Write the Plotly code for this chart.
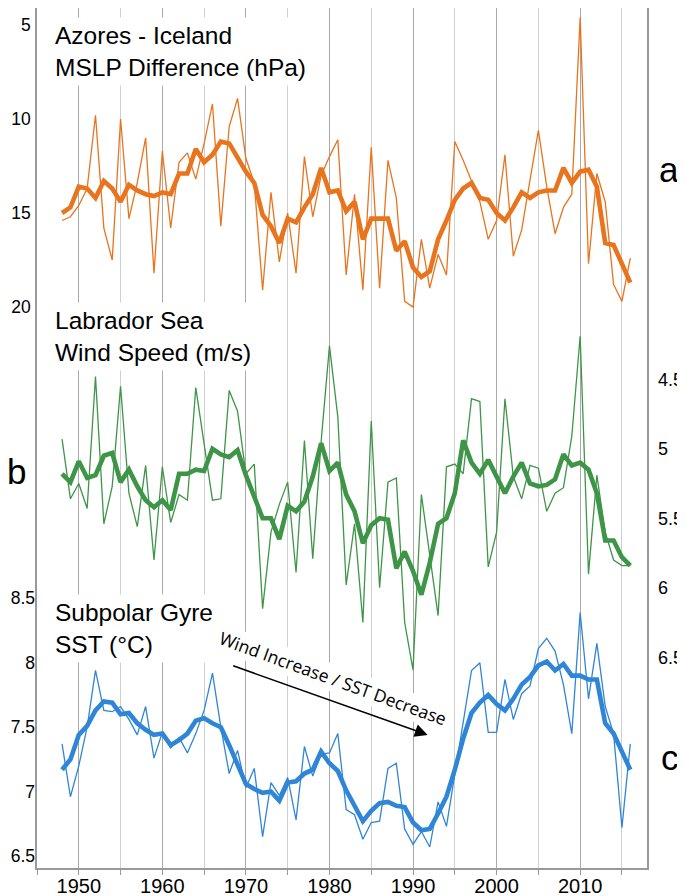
import plotly.graph_objects as go

years = list(range(1948, 2017))

# Azores - Iceland MSLP difference (hPa), annual and smoothed
mslp_raw = [15.4, 15.2, 14.6, 13.7, 9.8, 15.8, 17.5, 10.0, 15.3, 13.4,
            11.0, 18.2, 11.7, 15.8, 12.3, 11.8, 13.2, 11.3, 9.2, 15.7,
            10.4, 8.9, 12.1, 13.4, 19.1, 13.9, 17.6, 15.0, 18.2, 12.0,
            15.2, 13.0, 12.0, 11.1, 18.3, 14.0, 19.1, 11.5, 19.0, 12.2,
            14.2, 19.7, 20.0, 16.4, 19.0, 17.2, 18.3, 11.2, 12.2, 13.3,
            14.4, 16.4, 15.4, 11.9, 17.3, 15.9, 13.2, 10.6, 13.6, 16.1,
            14.7, 14.0, 4.6, 17.7, 12.9, 14.4, 18.8, 19.7, 17.4]
mslp_smooth = [15.0, 14.7, 13.6, 13.7, 14.2, 13.3, 13.7, 14.4, 13.5, 13.8,
               14.0, 14.1, 13.9, 14.0, 12.9, 12.9, 11.6, 12.3, 11.9, 11.2,
               11.3, 12.1, 12.8, 13.4, 15.1, 15.7, 16.6, 15.3, 15.5, 14.7,
               14.0, 12.6, 13.9, 13.8, 14.9, 14.4, 16.4, 15.3, 15.3, 15.3,
               17.0, 16.5, 17.9, 18.4, 18.1, 16.4, 15.4, 14.3, 13.7, 13.4,
               14.2, 14.3, 15.0, 15.4, 14.7, 13.9, 14.2, 13.9, 13.8, 13.8,
               12.6, 13.4, 12.8, 12.7, 13.6, 16.6, 16.7, 17.7, 18.7]

# Labrador Sea wind speed (m/s)
wind_raw = [4.93, 5.36, 5.25, 5.43, 4.48, 5.54, 5.27, 4.55, 5.32, 5.56,
            5.12, 5.80, 5.13, 5.53, 5.33, 5.37, 4.56, 4.98, 5.37, 5.36,
            4.58, 4.73, 5.18, 5.11, 6.15, 5.60, 5.40, 5.24, 5.89, 4.94,
            5.79, 4.95, 4.26, 4.77, 5.98, 5.54, 6.25, 4.80, 6.00, 5.24,
            5.21, 6.25, 6.59, 5.33, 5.75, 6.20, 5.13, 5.11, 5.18, 4.64,
            4.66, 5.85, 5.60, 4.64, 5.20, 5.36, 5.12, 5.14, 5.45, 5.32,
            5.28, 4.91, 4.19, 5.90, 5.19, 5.60, 5.80, 5.84, 5.84]
wind_smooth = [5.18, 5.24, 5.09, 5.21, 5.19, 5.05, 5.03, 5.24, 5.15, 5.27,
               5.37, 5.42, 5.37, 5.44, 5.18, 5.18, 5.15, 5.16, 5.00, 5.04,
               5.06, 5.01, 5.19, 5.34, 5.50, 5.50, 5.65, 5.41, 5.45, 5.38,
               5.20, 4.96, 5.16, 5.10, 5.33, 5.45, 5.68, 5.55, 5.50, 5.51,
               5.86, 5.74, 5.88, 6.05, 5.82, 5.54, 5.50, 5.32, 4.94, 5.10,
               5.18, 5.08, 5.20, 5.32, 5.20, 5.10, 5.25, 5.27, 5.26, 5.22,
               5.04, 5.12, 5.10, 5.15, 5.32, 5.66, 5.66, 5.78, 5.84]

# Subpolar gyre SST (deg C)
sst_raw = [7.37, 6.96, 7.20, 7.50, 7.94, 7.63, 7.62, 7.66, 7.56, 7.44,
           7.66, 7.26, 7.46, 7.34, 7.42, 7.30, 7.45, 7.63, 7.92, 7.50,
           7.14, 7.32, 7.03, 7.18, 6.65, 7.07, 6.97, 7.11, 6.78, 7.35,
           7.12, 7.29, 7.30, 7.45, 6.86, 6.82, 6.63, 6.76, 6.77, 7.18,
           7.22, 6.71, 6.59, 6.69, 6.57, 6.92, 6.73, 7.13, 7.52, 7.94,
           8.00, 7.46, 7.46, 7.87, 7.56, 7.76, 7.82, 8.11, 8.19, 8.09,
           7.83, 7.45, 8.39, 7.72, 8.15, 7.66, 7.45, 6.72, 7.37]
sst_smooth = [7.17, 7.25, 7.44, 7.51, 7.63, 7.70, 7.69, 7.60, 7.61, 7.53,
              7.48, 7.44, 7.45, 7.36, 7.40, 7.45, 7.55, 7.57, 7.53, 7.50,
              7.36, 7.22, 7.06, 7.02, 6.99, 7.00, 6.93, 7.07, 7.08, 7.14,
              7.17, 7.31, 7.22, 7.16, 7.01, 6.89, 6.77, 6.85, 6.91, 6.92,
              6.89, 6.88, 6.76, 6.70, 6.71, 6.83, 6.96, 7.17, 7.41, 7.61,
              7.69, 7.75, 7.68, 7.63, 7.72, 7.83, 7.89, 7.98, 8.01, 7.94,
              7.99, 7.90, 7.90, 7.87, 7.87, 7.53, 7.45, 7.31, 7.17]

mslp_ticks = [5, 10, 15, 20]
wind_ticks = [4.5, 5, 5.5, 6, 6.5]
sst_ticks = [6.5, 7, 7.5, 8, 8.5]

ORANGE = "#e8741e"
GREEN = "#3e9547"
BLUE = "#2f86d6"
FONT = "Liberation Sans, Arial, sans-serif"
AXIS_GREY = "#9a9a9a"

fig = go.Figure()

panels = [
    (mslp_raw, mslp_smooth, ORANGE, "y"),
    (wind_raw, wind_smooth, GREEN, "y2"),
    (sst_raw, sst_smooth, BLUE, "y3"),
]
for raw, smooth, colour, yax in panels:
    fig.add_trace(go.Scatter(x=years, y=raw, yaxis=yax, mode="lines",
                             line=dict(color=colour, width=1.3), showlegend=False))
    fig.add_trace(go.Scatter(x=years, y=smooth, yaxis=yax, mode="lines",
                             line=dict(color=colour, width=4.6), showlegend=False))


def fmt(v):
    return f"{v:g}"


# the page body adds an 8px offset, so the figure is a little smaller than the window
fig.update_layout(
    width=677, height=888,
    margin=dict(l=29, r=38, t=0, b=28, autoexpand=False),
    paper_bgcolor="white", plot_bgcolor="white",
    font=dict(family=FONT, color="black"),
    xaxis=dict(
        range=[1945, 2018], tick0=1950, dtick=10,
        showgrid=True, gridcolor="#a9a9a9", gridwidth=1,
        minor=dict(tick0=1945, dtick=5, showgrid=True, gridcolor="#d0d0d0",
                   ticks="outside", ticklen=5, tickcolor=AXIS_GREY),
        ticks="outside", ticklen=5, tickcolor=AXIS_GREY,
        showline=True, linecolor=AXIS_GREY, linewidth=1.5, mirror=True,
        zeroline=False, ticklabelstandoff=-6, tickfont=dict(size=20)),
    yaxis=dict(
        range=[49.84, 4.096], tickmode="array", tickvals=mslp_ticks,
        ticktext=[fmt(v) for v in mslp_ticks],
        showgrid=False, zeroline=False, showline=True, linecolor=AXIS_GREY,
        linewidth=1.5, mirror=True, ticklabelstandoff=1, tickfont=dict(size=17.5)),
    yaxis2=dict(
        overlaying="y", side="right", range=[8.016, 1.829], tickmode="array",
        tickvals=wind_ticks, ticktext=[fmt(v) for v in wind_ticks],
        showgrid=False, zeroline=False, showline=False,
        ticklabelstandoff=10, tickfont=dict(size=18)),
    yaxis3=dict(
        overlaying="y", side="left", range=[6.407, 13.081], tickmode="array",
        tickvals=sst_ticks, ticktext=[fmt(v) for v in sst_ticks],
        showgrid=False, zeroline=False, showline=False,
        ticklabelstandoff=1, tickfont=dict(size=17.5)),
)

# panel titles, white boxes hide the grid behind them
titles = [
    ("Azores - Iceland<br>MSLP Difference (hPa)", 0.9895),
    ("Labrador Sea<br>Wind Speed (m/s)", 0.658),
    ("Subpolar Gyre<br>SST (°C)", 0.3186),
]
for text, ypos in titles:
    fig.add_annotation(text=text, xref="paper", yref="paper", x=0.0213, y=ypos,
                       xanchor="left", yanchor="top", align="left", showarrow=False,
                       bgcolor="white", borderpad=4, font=dict(size=24.5, family=FONT))

# panel letters
for letter, xpos, ypos in [("a", 1.036, 0.8122), ("b", -0.034, 0.4605),
                           ("c", 1.0377, 0.129)]:
    fig.add_annotation(text=letter, xref="paper", yref="paper", x=xpos, y=ypos,
                       xanchor="center", yanchor="middle", showarrow=False,
                       font=dict(size=35, family=FONT))

# trend arrow and its label
fig.add_annotation(x=1991.75, y=7.44, xref="x", yref="y3",
                   ax=1968.3, ay=7.98, axref="x", ayref="y3",
                   text="", showarrow=True, arrowhead=2, arrowsize=1.6,
                   arrowwidth=1.6, arrowcolor="black")
fig.add_annotation(x=1980.4, y=7.88, xref="x", yref="y3", text="Wind Increase / SST Decrease",
                   textangle=20, showarrow=False, bgcolor="white", borderpad=1,
                   font=dict(size=17.5, family="Open Sans, sans-serif", color="black"))

fig.write_html("out.html")
